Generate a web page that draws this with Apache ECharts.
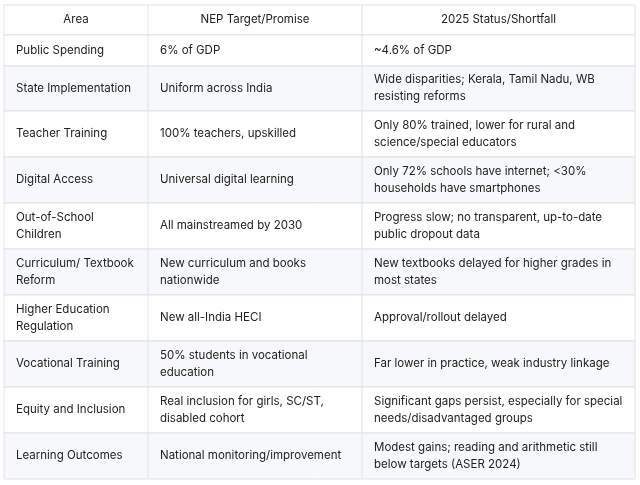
<!DOCTYPE html>
<html>
<head>
<meta charset="utf-8">
<script src="https://cdn.jsdelivr.net/npm/echarts@6/dist/echarts.min.js"></script>
<style>html,body{margin:0;padding:0;background:#fff}</style>
</head>
<body>
<div id="main" style="width:640px;height:485px"></div>
<script>
// table content
const headers = ['Area', 'NEP Target/Promise', '2025 Status/Shortfall'];
const areas = ['Public Spending', 'State Implementation', 'Teacher Training', 'Digital Access',
  'Out-of-School\nChildren', 'Curriculum/ Textbook\nReform', 'Higher Education\nRegulation',
  'Vocational Training', 'Equity and Inclusion', 'Learning Outcomes'];
const targets = ['6% of GDP', 'Uniform across India', '100% teachers, upskilled',
  'Universal digital learning', 'All mainstreamed by 2030', 'New curriculum and books\nnationwide',
  'New all-India HECI', '50% students in vocational\neducation',
  'Real inclusion for girls, SC/ST,\ndisabled cohort', 'National monitoring/improvement'];
const statuses = ['~4.6% of GDP', 'Wide disparities; Kerala, Tamil Nadu, WB\nresisting reforms',
  'Only 80% trained, lower for rural and\nscience/special educators',
  'Only 72% schools have internet; <30%\nhouseholds have smartphones',
  'Progress slow; no transparent, up-to-date\npublic dropout data',
  'New textbooks delayed for higher grades in\nmost states', 'Approval/rollout delayed',
  'Far lower in practice, weak industry linkage',
  'Significant gaps persist, especially for special\nneeds/disadvantaged groups',
  'Modest gains; reading and arithmetic still\nbelow targets (ASER 2024)'];

const colX = [4, 148, 362, 635];
const rowY = [5, 35, 66, 111, 157, 203, 249, 295, 341, 387, 433, 479];
const lineC = '#dfe2e6';
const els = [];
for (let r = 0; r < rowY.length - 1; r++) {
  const y0 = rowY[r], y1 = rowY[r + 1];
  const fill = (r > 0 && r % 2 === 0) ? '#f7f8fa' : '#ffffff';
  els.push({type: 'rect', shape: {x: colX[0], y: y0, width: colX[3] - colX[0], height: y1 - y0},
    style: {fill: fill, stroke: lineC, lineWidth: 1}});
  const cells = r === 0 ? headers : [areas[r - 1], targets[r - 1], statuses[r - 1]];
  for (let c = 0; c < 3; c++) {
    const hdr = r === 0;
    els.push({type: 'text', x: hdr ? (colX[c] + colX[c + 1]) / 2 : colX[c] + 12, y: (y0 + y1) / 2,
      style: {text: cells[c], fill: '#222', font: '11.5px Inter, sans-serif', lineHeight: 17,
        align: hdr ? 'center' : 'left', verticalAlign: 'middle'}});
  }
}
for (let c = 1; c < 3; c++) {
  els.push({type: 'line', shape: {x1: colX[c], y1: rowY[0], x2: colX[c], y2: rowY[rowY.length - 1]},
    style: {stroke: lineC, lineWidth: 1}});
}
const chart = echarts.init(document.getElementById('main'));
chart.setOption({graphic: {elements: els}});
</script>
</body>
</html>
